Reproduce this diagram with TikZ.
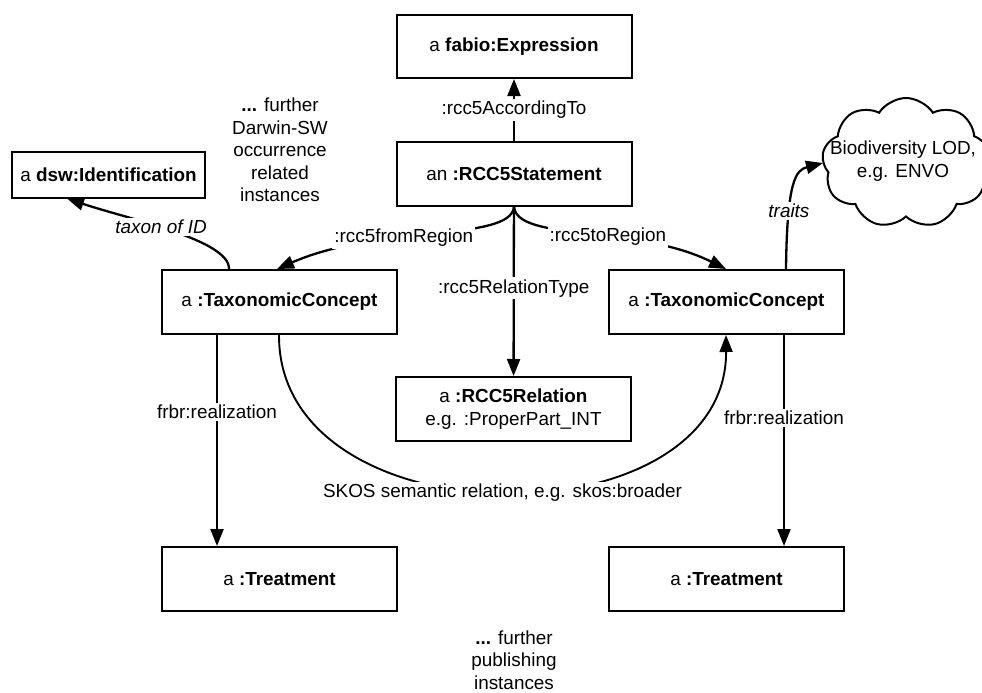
\documentclass[tikz,border=0pt]{standalone}
\usepackage{fontspec}
\setmainfont{Liberation Sans}
\usetikzlibrary{arrows.meta,shapes.symbols,calc}

\tikzset{
  box/.style={draw, line width=2pt, minimum width=235pt, minimum height=64pt,
    inner sep=0pt, align=center},
  rel/.style={line width=2.3pt, -{Triangle[length=17pt,width=13pt]}},
  lbl/.style={fill=white, inner sep=2pt, align=center},
  note/.style={align=center, inner sep=0pt},
}

\begin{document}
\begin{tikzpicture}[x=1pt, y=1pt, font=\fontsize{18.9pt}{22.5pt}\selectfont]
\useasboundingbox (0,0) rectangle (982,-693);

% classes and instances
\node[box, minimum height=63pt] (fabio) at (514,-46.5) {a \textbf{fabio:Expression}};
\node[box] (stmt) at (514,-174) {an \textbf{:RCC5Statement}};
\node[box, minimum width=193pt, minimum height=46pt] (dsw) at (108.5,-174.5) {a \textbf{dsw:Identification}};
\node[box] (ltc) at (279.5,-302) {a \textbf{:TaxonomicConcept}};
\node[box] (rtc) at (726.5,-302) {a \textbf{:TaxonomicConcept}};
\node[box] (rcc) at (513.5,-409) {a \textbf{:RCC5Relation}\\e.g. :ProperPart\_INT};
\node[box] (ltr) at (279.5,-579) {a \textbf{:Treatment}};
\node[box] (rtr) at (726.5,-579) {a \textbf{:Treatment}};
\node[draw, line width=2pt, cloud, cloud puffs=9, cloud puff arc=115, aspect=1.3,
  minimum width=168pt, minimum height=130pt, inner sep=0pt, align=center]
  (lod) at (906,-163) {};
\node[note] (lodtext) at (903,-161) {Biodiversity LOD,\\e.g. ENVO};

% free-standing notes
\node[note] (dwc) at (280,-150) {\textbf{...} further\\Darwin-SW\\occurrence\\related\\instances};
\node[note] (pub) at (514,-660) {\textbf{...} further\\publishing\\instances};

% attachment points
\coordinate (ltcId) at ($(ltc.north west)+(68,0)$);
\coordinate (ltcFrom) at ($(ltc.north west)+(116,0)$);
\coordinate (ltcReal) at ($(ltc.south west)+(56,0)$);
\coordinate (ltcSkos) at ($(ltc.south west)+(118,0)$);
\coordinate (rtcTo) at ($(rtc.north west)+(118,0)$);
\coordinate (rtcTraits) at ($(rtc.north west)+(178,0)$);
\coordinate (rtcReal) at ($(rtc.south west)+(176,0)$);
\coordinate (rtcSkos) at ($(rtc.south west)+(118,0)$);
\coordinate (dswIn) at ($(dsw.south west)+(56,0)$);
\coordinate (lodIn) at (823,-163);

% connectors
\draw[rel] (stmt) -- node[lbl] {:rcc5AccordingTo} (fabio);
\draw[rel] (stmt) -- node[lbl, pos=0.48] {:rcc5RelationType} (rcc);
\draw[rel] (stmt.south) .. controls (510,-242) and (380,-224) ..
  node[lbl, pos=0.6] {:rcc5fromRegion} (ltcFrom);
\draw[rel] (stmt.south) .. controls (518,-242) and (635,-224) ..
  node[lbl, pos=0.58] {:rcc5toRegion} (rtcTo);
\draw[rel] (ltcId) .. controls (230,-240) and (128,-219) ..
  node[lbl, pos=0.55] {\itshape taxon of ID} (dswIn);
\draw[rel] (rtcTraits) .. controls (787,-180) and (796,-170) ..
  node[lbl, pos=0.28] {\itshape traits} (lodIn);
\draw[rel] (ltcReal) -- node[lbl, pos=0.366] {frbr:realization} (ltcReal |- ltr.north);
\draw[rel] (rtcReal) -- node[lbl, pos=0.394] {frbr:realization} (rtcReal |- rtr.north);
\draw[line width=1.9pt, -{Triangle[length=17pt,width=13pt]}] (ltcSkos)
  .. controls (278,-544) and (727,-544) ..
  node[lbl, pos=0.5, yshift=-1pt] {SKOS semantic relation, e.g. skos:broader} (rtcSkos);

\end{tikzpicture}
\end{document}
